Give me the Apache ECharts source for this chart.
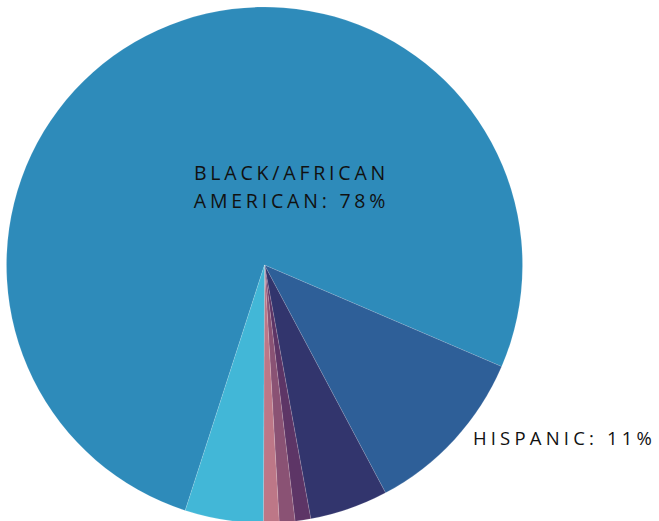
<!DOCTYPE html>
<html>
<head>
<meta charset="utf-8">
<script src="https://cdn.jsdelivr.net/npm/echarts@6/dist/echarts.min.js"></script>
<style>
html,body{margin:0;padding:0;background:#fff;}
#c{width:659px;height:521px;}
</style>
</head>
<body>
<div id="c"></div>
<script>
const categories = ['Black/African American', 'Hispanic', 'White', 'Asian', 'American Indian', 'Pacific Islander', 'Two or More Races'];
const values = [78, 11, 5, 1, 1, 1, 5];
const colors = ['#2e8bba', '#2e5f98', '#32356d', '#5d3566', '#8a5274', '#bd7787', '#42b7d7'];
const labeled = ['Black/African American', 'Hispanic'];

const labelOffsets = { 'Black/African American': [27, -79], 'Hispanic': [300, 172] };
const labelSizes = { 'Black/African American': 19.5, 'Hispanic': 18.5 };

const data = categories.map((name, i) => {
  const show = labeled.indexOf(name) >= 0;
  return {
    name: name,
    value: values[i],
    itemStyle: { color: colors[i] },
    label: show ? {
      show: true,
      position: 'center',
      offset: labelOffsets[name],
      fontSize: labelSizes[name],
      lineHeight: 28
    } : { show: false },
    labelLine: { show: false }
  };
});

const chart = echarts.init(document.getElementById('c'), null, { renderer: 'svg' });
chart.setOption({
  animation: false,
  series: [{
    type: 'pie',
    center: [264.5, 265],
    radius: [0, 258],
    startAngle: 252.1,
    clockwise: true,
    avoidLabelOverlap: false,
    emphasis: { disabled: true },
    itemStyle: { borderColor: 'rgba(255,255,255,0.25)', borderWidth: 0.5 },
    label: {
      fontFamily: 'Open Sans',
      color: '#111',
      fontWeight: 'normal',
      formatter: function (p) {
        return p.name.toUpperCase().replace(' ', '\n') + ': ' + p.value + '%';
      }
    },
    data: data
  }]
});

function spaceText() {
  document.querySelectorAll('#c text').forEach(t => {
    const s = t.textContent;
    if (s.indexOf('HISPANIC') >= 0) t.style.letterSpacing = '4.2px';
    else t.style.letterSpacing = '3.8px';
  });
}
spaceText();
chart.on('finished', spaceText);
</script>
</body>
</html>
